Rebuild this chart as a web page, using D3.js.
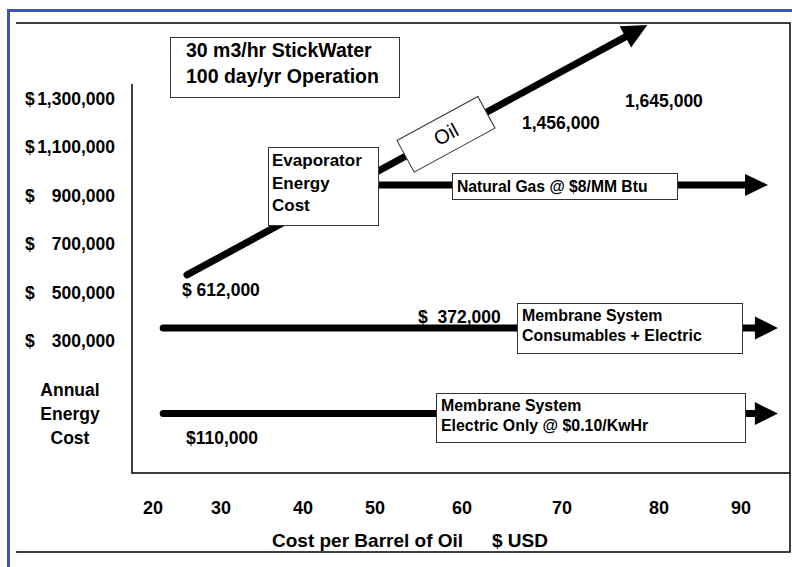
<!DOCTYPE html>
<html>
<head>
<meta charset="utf-8">
<script src="https://cdn.jsdelivr.net/npm/d3@7"></script>
<style>
  html, body { margin: 0; padding: 0; background: #fff; }
  svg { display: block; font-family: "Liberation Sans", Arial, sans-serif; font-weight: bold; }
</style>
</head>
<body>
<div id="chart"></div>
<script>
// --- Data ---
const costTicks = [20, 30, 40, 50, 60, 70, 80, 90];
const energyTicks = [300000, 500000, 700000, 900000, 1100000, 1300000];

// Line endpoints as [cost per barrel, annual energy cost]
const oilLine = [[25, 573000], [78.8, 1606000]];
const gasLine = [[50, 945000], [93.3, 945000]];
const membraneConsLine = [[21.5, 354000], [94.5, 354000]];
const membraneElecLine = [[21.5, 0], [94.5, 0]];

const valueLabels = ['$ 612,000', '1,456,000', '1,645,000', '$  372,000', '$110,000'];
const titleLines = ['30 m3/hr StickWater', '100 day/yr Operation'];
const evapLines = ['Evaporator', 'Energy', 'Cost'];
const gasLabel = 'Natural Gas @ $8/MM Btu';
const consLines = ['Membrane System', 'Consumables + Electric'];
const elecLines = ['Membrane System', 'Electric Only @ $0.10/KwHr'];
const yTitle = ['Annual', 'Energy', 'Cost'];
const xTitle = ['Cost per Barrel of Oil', '$ USD'];

// --- Layout ---
const W = 792, H = 567;
// tick label positions on the slide are hand-spaced, so the x scale is piecewise
const xTickPos = [153, 221, 303, 375, 462, 562, 659, 741];
const x = d3.scaleLinear().domain(costTicks).range(xTickPos);
const y = d3.scaleLinear().domain([300000, 1300000]).range([341, 99]);

const svg = d3.select('#chart').append('svg')
  .attr('width', W).attr('height', H);

// Slide frame (blue) and inner black frame
svg.append('path')
  .attr('d', 'M8.5,567 V10.5 H792')
  .attr('fill', 'none').attr('stroke', '#3f56ae').attr('stroke-width', 3);
svg.append('path')
  .attr('d', 'M16,23 H790 V552 H16')
  .attr('fill', 'none').attr('stroke', '#000').attr('stroke-width', 1.5);

// Axis lines
svg.append('path')
  .attr('d', 'M132,84 V473 H790')
  .attr('fill', 'none').attr('stroke', '#000').attr('stroke-width', 1.5);

// Y tick labels: "$" flush left, amount right-aligned
const fmt = d3.format(',');
energyTicks.forEach(v => {
  svg.append('text')
    .attr('x', 25).attr('y', y(v) + 6)
    .attr('font-size', '17.5px')
    .text('$');
  svg.append('text')
    .attr('x', 115).attr('y', y(v) + 6)
    .attr('text-anchor', 'end')
    .attr('font-size', '17.5px')
    .text(fmt(v));
});

// X tick labels
costTicks.forEach(v => {
  svg.append('text')
    .attr('x', x(v)).attr('y', 514)
    .attr('text-anchor', 'middle')
    .attr('font-size', '18px')
    .text(v);
});

// Axis titles
yTitle.forEach((t, i) => {
  svg.append('text')
    .attr('x', 70).attr('y', 396 + i * 24)
    .attr('text-anchor', 'middle')
    .attr('font-size', '17.5px')
    .text(t);
});
svg.append('text').attr('x', 272).attr('y', 547).attr('font-size', '19px').text(xTitle[0]);
svg.append('text').attr('x', 492).attr('y', 547).attr('font-size', '19px').text(xTitle[1]);

// --- Arrows ---
function arrow(pts, headLen, headW) {
  const [a, b] = pts.map(d => [x(d[0]), y(d[1])]);
  const dx = b[0] - a[0], dy = b[1] - a[1];
  const len = Math.hypot(dx, dy);
  const ux = dx / len, uy = dy / len;
  const base = [b[0] - ux * headLen, b[1] - uy * headLen];
  const px = -uy * headW / 2, py = ux * headW / 2;
  svg.append('line')
    .attr('x1', a[0]).attr('y1', a[1])
    .attr('x2', base[0]).attr('y2', base[1])
    .attr('stroke', '#000').attr('stroke-width', 7)
    .attr('stroke-linecap', 'round');
  svg.append('path')
    .attr('d', `M${b[0]},${b[1]}L${base[0] + px},${base[1] + py}L${base[0] - px},${base[1] - py}Z`)
    .attr('fill', '#000');
  return { a, b, ux, uy };
}

const oil = arrow(oilLine, 25, 24);
arrow(gasLine, 23, 22);
arrow(membraneConsLine, 23, 23);
arrow(membraneElecLine, 23, 23);

// --- Boxes ---
function box(x0, y0, w, h) {
  svg.append('rect')
    .attr('x', x0).attr('y', y0).attr('width', w).attr('height', h)
    .attr('fill', '#fff').attr('stroke', '#333').attr('stroke-width', 1);
}
function lines(arr, x0, y0, step, size) {
  arr.forEach((t, i) => {
    svg.append('text')
      .attr('x', x0).attr('y', y0 + i * step)
      .attr('font-size', size)
      .text(t);
  });
}

// Title box
box(170.5, 37.5, 229, 60);
lines(titleLines, 186, 57, 26, '19.5px');

// Evaporator box
box(268.5, 147.5, 110, 78);
lines(evapLines, 272, 166, 22.5, '17px');

// Oil label box, rotated along the oil arrow
const oilCx = 446;
const t = (oilCx - oil.a[0]) / oil.ux;
const oilCy = oil.a[1] + oil.uy * t;
const ang = Math.atan2(oil.uy, oil.ux) * 180 / Math.PI;
const og = svg.append('g').attr('transform', `translate(${oilCx},${oilCy}) rotate(${ang})`);
og.append('rect')
  .attr('x', -46).attr('y', -18).attr('width', 92).attr('height', 36)
  .attr('fill', '#fff').attr('stroke', '#333').attr('stroke-width', 1);
og.append('text')
  .attr('x', 0).attr('y', 7)
  .attr('text-anchor', 'middle')
  .attr('font-size', '20px').attr('font-weight', 'normal')
  .text('Oil');

// Natural gas box
box(452.5, 173.5, 225, 26);
lines([gasLabel], 457, 192, 0, '15.7px');

// Membrane boxes
box(517.5, 303.5, 225, 50);
lines(consLines, 522, 321, 20, '15.9px');
box(436.5, 393.5, 309, 49);
lines(elecLines, 441, 411, 20, '15.9px');

// Value labels
const valuePos = [[182, 296], [522, 129], [625, 107], [418, 323], [186, 444]];
valueLabels.forEach((t, i) => {
  svg.append('text')
    .attr('x', valuePos[i][0]).attr('y', valuePos[i][1])
    .attr('font-size', '17.5px')
    .style('white-space', 'pre')
    .text(t);
});
</script>
</body>
</html>
